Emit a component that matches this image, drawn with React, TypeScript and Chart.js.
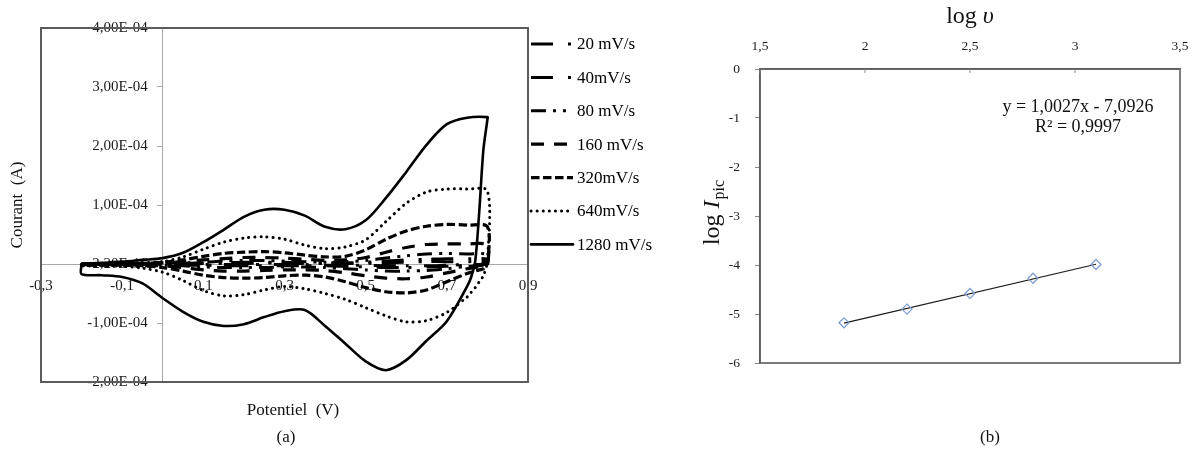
import React, { useEffect, useRef } from 'react';
import { Chart, registerables } from 'chart.js';

Chart.register(...registerables);

// ---------- Panel (a): cyclic voltammograms ----------
// Potential (V) sampled on the forward (anodic) and reverse (cathodic) sweeps
const potentialForward = [-0.2, -0.15, -0.1, -0.05, 0, 0.05, 0.1, 0.15, 0.2, 0.25, 0.3, 0.35, 0.4, 0.45, 0.5, 0.55, 0.6, 0.65, 0.7, 0.75, 0.8];
const potentialReverse = [0.8, 0.79, 0.78, 0.77, 0.76, 0.75, 0.7, 0.65, 0.6, 0.55, 0.5, 0.45, 0.4, 0.35, 0.3, 0.25, 0.2, 0.15, 0.1, 0.05, 0, -0.05, -0.1, -0.15, -0.2];

// Current in units of 1E-04 A
const current20Fwd = [0, 0, 0, 0, 0, 0, 0.01, 0.01, 0.01, 0.02, 0.01, 0.01, 0.01, 0.01, 0.01, 0.02, 0.03, 0.04, 0.04, 0.04, 0.04];
const current20Rev = [0, 0, -0.01, -0.01, -0.01, -0.01, -0.02, -0.03, -0.03, -0.03, -0.02, -0.02, -0.02, -0.01, -0.01, -0.01, -0.01, -0.01, -0.01, -0.01, 0, 0, 0, 0, 0];
const current40Fwd = [0, 0, 0, 0, 0, 0.01, 0.02, 0.02, 0.03, 0.03, 0.03, 0.02, 0.02, 0.02, 0.03, 0.05, 0.07, 0.08, 0.09, 0.09, 0.08];
const current40Rev = [0, -0.01, -0.01, -0.02, -0.02, -0.02, -0.04, -0.05, -0.06, -0.06, -0.05, -0.04, -0.03, -0.03, -0.03, -0.03, -0.03, -0.03, -0.02, -0.02, -0.01, -0.01, 0, 0, 0];
const current80Fwd = [0, 0, 0, 0, 0.01, 0.02, 0.03, 0.05, 0.06, 0.06, 0.05, 0.04, 0.03, 0.04, 0.06, 0.1, 0.14, 0.17, 0.18, 0.17, 0.16];
const current80Rev = [0.01, -0.02, -0.03, -0.03, -0.04, -0.04, -0.08, -0.11, -0.12, -0.12, -0.1, -0.08, -0.06, -0.05, -0.05, -0.06, -0.06, -0.06, -0.05, -0.03, -0.02, -0.01, -0.01, 0, 0];
const current160Fwd = [0, 0, 0, 0.01, 0.02, 0.04, 0.07, 0.09, 0.11, 0.11, 0.1, 0.08, 0.06, 0.07, 0.11, 0.2, 0.28, 0.33, 0.34, 0.34, 0.32];
const current160Rev = [0.01, -0.04, -0.05, -0.06, -0.07, -0.08, -0.15, -0.22, -0.25, -0.24, -0.2, -0.15, -0.11, -0.1, -0.1, -0.11, -0.12, -0.12, -0.1, -0.06, -0.03, -0.02, -0.01, -0.01, -0.01];
const current320Fwd = [0, 0, 0, 0.01, 0.03, 0.07, 0.13, 0.18, 0.2, 0.21, 0.19, 0.15, 0.12, 0.13, 0.24, 0.42, 0.56, 0.64, 0.67, 0.66, 0.63];
const current320Rev = [0.02, -0.08, -0.1, -0.12, -0.14, -0.16, -0.3, -0.44, -0.49, -0.47, -0.4, -0.3, -0.22, -0.19, -0.2, -0.23, -0.24, -0.23, -0.19, -0.12, -0.06, -0.03, -0.02, -0.02, -0.02];
const current640Fwd = [0, 0, 0.01, 0.02, 0.04, 0.12, 0.25, 0.37, 0.44, 0.46, 0.42, 0.32, 0.26, 0.29, 0.41, 0.72, 1.03, 1.22, 1.27, 1.27, 1.24];
const current640Rev = [0.05, -0.2, -0.3, -0.4, -0.48, -0.56, -0.82, -0.96, -0.98, -0.88, -0.74, -0.6, -0.5, -0.42, -0.38, -0.44, -0.52, -0.54, -0.45, -0.28, -0.14, -0.07, -0.04, -0.03, -0.03];
const current1280Fwd = [0, 0.02, 0.04, 0.07, 0.1, 0.19, 0.37, 0.58, 0.8, 0.92, 0.92, 0.82, 0.63, 0.59, 0.74, 1.12, 1.56, 2.02, 2.37, 2.48, 2.49];
const current1280Rev = [2.45, 1.93, 0.9, 0.05, -0.22, -0.38, -0.97, -1.3, -1.63, -1.8, -1.65, -1.35, -1.05, -0.78, -0.8, -0.9, -1.02, -1.05, -0.98, -0.81, -0.58, -0.33, -0.22, -0.19, -0.17];

const scanRateLabels = ['20 mV/s', '40mV/s', '80 mV/s', '160 mV/s', '320mV/s', '640mV/s', '1280 mV/s'];
const forwardSeries = [current20Fwd, current40Fwd, current80Fwd, current160Fwd, current320Fwd, current640Fwd, current1280Fwd];
const reverseSeries = [current20Rev, current40Rev, current80Rev, current160Rev, current320Rev, current640Rev, current1280Rev];

const xTickLabelsA = ['-0,3', '-0,1', '0,1', '0,3', '0,5', '0,7', '0,9'];
const yTickLabelsA = ['-2,00E-04', '-1,00E-04', '-2,20E-16', '1,00E-04', '2,00E-04', '3,00E-04', '4,00E-04'];

// ---------- Panel (b): log Ipic vs log v ----------
const logScanRate = [1.9, 2.2, 2.5, 2.8, 3.1];
const logPeakCurrent = [-5.18, -4.9, -4.58, -4.27, -3.99];
const trendSlope = 1.0027;
const trendIntercept = -7.0926;
const trendEquation = 'y = 1,0027x - 7,0926';
const trendR2 = 'R² = 0,9997';
const xTickLabelsB = ['1,5', '2', '2,5', '3', '3,5'];
const yTickLabelsB = ['-6', '-5', '-4', '-3', '-2', '-1', '0'];

// ---------- styles ----------
const SERIF = '"Liberation Serif", "Times New Roman", serif';
const lineStyles = [
  { dash: [22, 15, 3, 10], width: 3, cap: 'butt' },
  { dash: [22, 15, 3, 10], width: 3, cap: 'butt' },
  { dash: [15, 7, 3, 7, 3, 7], width: 3, cap: 'butt' },
  { dash: [13, 10], width: 3.2, cap: 'butt' },
  { dash: [8.5, 3.5], width: 3.2, cap: 'butt' },
  { dash: [0.1, 6], width: 3, cap: 'round' },
  { dash: [], width: 2.6, cap: 'round' },
];

// y labels of panel (a) sit left of the crossing axis, like Excel's
const shiftYLabelsPlugin = {
  id: 'shiftYLabels',
  beforeDraw(chart: any) {
    const items = chart.scales.y.getLabelItems();
    if (!items._shifted) {
      items.forEach((it: any) => { it.options.translation[0] -= 15; });
      items._shifted = true;
    }
  },
};

const frameAPlugin = {
  id: 'frameA',
  afterDraw(chart: any) {
    const { ctx, chartArea, data } = chart;
    ctx.save();
    ctx.strokeStyle = '#5c5c5c';
    ctx.lineWidth = 2;
    ctx.setLineDash([]);
    ctx.strokeRect(chartArea.left, chartArea.top, chartArea.right - chartArea.left, chartArea.bottom - chartArea.top);
    // legend
    const legX = chartArea.right + 3;
    data.datasets.forEach((ds: any, i: number) => {
      const y = 44 + i * 33.4;
      ctx.save();
      ctx.strokeStyle = '#000';
      ctx.lineWidth = ds.borderWidth;
      ctx.lineCap = ds.borderCapStyle;
      ctx.setLineDash(ds.borderDash);
      ctx.beginPath();
      ctx.moveTo(legX, y);
      ctx.lineTo(legX + 42, y);
      ctx.stroke();
      ctx.restore();
      ctx.fillStyle = '#000';
      ctx.font = `17px ${SERIF}`;
      ctx.textAlign = 'left';
      ctx.textBaseline = 'middle';
      ctx.fillText(ds.label, legX + 46, y + 1);
    });
    // titles
    ctx.fillStyle = '#111';
    ctx.font = `17px ${SERIF}`;
    ctx.textAlign = 'center';
    ctx.textBaseline = 'middle';
    ctx.fillText('Potentiel  (V)', 293, 411);
    ctx.fillText('(a)', 286, 438);
    ctx.translate(18, 205);
    ctx.rotate(-Math.PI / 2);
    ctx.fillText('Courant  (A)', 0, 0);
    ctx.restore();
  },
};

const frameBPlugin = {
  id: 'frameB',
  afterDraw(chart: any) {
    const { ctx, chartArea, scales } = chart;
    ctx.save();
    ctx.strokeStyle = '#5c5c5c';
    ctx.lineWidth = 1.6;
    ctx.strokeRect(chartArea.left, chartArea.top, chartArea.right - chartArea.left, chartArea.bottom - chartArea.top);
    // inward tick marks on the top axis
    ctx.lineWidth = 1;
    ctx.strokeStyle = '#888';
    scales.x.ticks.forEach((t: any) => {
      const px = scales.x.getPixelForValue(t.value);
      ctx.beginPath();
      ctx.moveTo(px, chartArea.top);
      ctx.lineTo(px, chartArea.top + 4);
      ctx.stroke();
    });
    ctx.fillStyle = '#111';
    ctx.textBaseline = 'middle';
    ctx.textAlign = 'center';
    // equation
    ctx.font = `18px ${SERIF}`;
    ctx.fillText(trendEquation, 378, 107);
    ctx.fillText(trendR2, 378, 127);
    // (b)
    ctx.font = `17px ${SERIF}`;
    ctx.fillText('(b)', 290, 438);
    // top title: log υ
    const cx = (chartArea.left + chartArea.right) / 2;
    ctx.font = `24px ${SERIF}`;
    const w1 = ctx.measureText('log ').width;
    ctx.font = `italic 24px ${SERIF}`;
    const w2 = ctx.measureText('υ').width;
    const sx = cx - (w1 + w2) / 2;
    ctx.textAlign = 'left';
    ctx.font = `24px ${SERIF}`;
    ctx.fillText('log ', sx, 17);
    ctx.font = `italic 24px ${SERIF}`;
    ctx.fillText('υ', sx + w1, 17);
    // y title: log I_pic (rotated)
    ctx.save();
    ctx.translate(13, 213);
    ctx.rotate(-Math.PI / 2);
    ctx.font = `24px ${SERIF}`;
    const a1 = ctx.measureText('log ').width;
    ctx.font = `italic 24px ${SERIF}`;
    const a2 = ctx.measureText('I').width;
    ctx.font = `16px ${SERIF}`;
    const a3 = ctx.measureText('pic').width;
    const st = -(a1 + a2 + a3) / 2;
    ctx.font = `24px ${SERIF}`;
    ctx.fillText('log ', st, 0);
    ctx.font = `italic 24px ${SERIF}`;
    ctx.fillText('I', st + a1, 0);
    ctx.font = `16px ${SERIF}`;
    ctx.fillText('pic', st + a1 + a2 + 1, 7);
    ctx.restore();
    ctx.restore();
  },
};

export default function App() {
  const refA = useRef<HTMLCanvasElement>(null);
  const refB = useRef<HTMLCanvasElement>(null);

  useEffect(() => {
    const datasetsA = scanRateLabels.map((label, k) => {
      const pts = potentialForward
        .map((x, i) => ({ x, y: forwardSeries[k][i] }))
        .concat(potentialReverse.map((x, i) => ({ x, y: reverseSeries[k][i] })));
      pts.push({ x: potentialForward[0], y: forwardSeries[k][0] });
      const st = lineStyles[k];
      return {
        label,
        data: pts,
        showLine: true,
        borderColor: '#000',
        backgroundColor: '#000',
        borderWidth: st.width,
        borderDash: st.dash,
        borderCapStyle: st.cap,
        borderJoinStyle: 'round',
        pointRadius: 0,
        tension: 0.3,
      };
    });

    const tickFontA = { family: SERIF, size: 15 };
    const chartA = new Chart(refA.current as HTMLCanvasElement, {
      type: 'scatter',
      data: { datasets: datasetsA as any },
      options: {
        responsive: false,
        animation: false,
        devicePixelRatio: 1,
        layout: { padding: { left: 41, right: 172, top: 28, bottom: 71 } },
        plugins: { legend: { display: false }, tooltip: { enabled: false } },
        scales: {
          x: {
            type: 'linear',
            position: { y: 0 } as any,
            min: -0.3,
            max: 0.9,
            ticks: {
              stepSize: 0.2,
              callback: (_v: any, i: number) => xTickLabelsA[i],
              font: tickFontA,
              color: '#1a1a1a',
              padding: 13,
              maxRotation: 0,
              autoSkip: false,
            },
            grid: { display: true, drawOnChartArea: false, drawTicks: false },
            border: { display: true, color: '#a8a8a8', width: 1 },
          },
          y: {
            type: 'linear',
            position: { x: 0 } as any,
            min: -2,
            max: 4,
            ticks: {
              stepSize: 1,
              callback: (_v: any, i: number) => yTickLabelsA[i],
              font: tickFontA,
              color: '#1a1a1a',
              padding: 10,
            },
            grid: { display: true, drawOnChartArea: false, drawTicks: true, tickLength: 5, color: '#a8a8a8' },
            border: { display: true, color: '#a8a8a8', width: 1 },
          },
        },
      },
      plugins: [shiftYLabelsPlugin, frameAPlugin],
    });

    const tickFontB = { family: SERIF, size: 13.5 };
    const trendX = [logScanRate[0], logScanRate[logScanRate.length - 1]];
    const chartB = new Chart(refB.current as HTMLCanvasElement, {
      type: 'scatter',
      data: {
        datasets: [
          {
            label: 'log Ipic',
            data: logScanRate.map((x, i) => ({ x, y: logPeakCurrent[i] })),
            pointStyle: 'rectRot',
            pointRadius: 5,
            pointBorderWidth: 1.3,
            borderColor: '#7f9fd0',
            backgroundColor: 'rgba(0,0,0,0)',
            showLine: false,
          },
          {
            label: 'Linéaire',
            data: trendX.map((x) => ({ x, y: trendSlope * x + trendIntercept })),
            showLine: true,
            borderColor: '#1a1a1a',
            borderWidth: 1.2,
            pointRadius: 0,
          },
        ] as any,
      },
      options: {
        responsive: false,
        animation: false,
        devicePixelRatio: 1,
        layout: { padding: { left: 0, right: 16, top: 0, bottom: 90 } },
        plugins: { legend: { display: false }, tooltip: { enabled: false } },
        scales: {
          x: {
            type: 'linear',
            position: 'top',
            min: 1.5,
            max: 3.5,
            ticks: {
              stepSize: 0.5,
              callback: (_v: any, i: number) => xTickLabelsB[i],
              font: tickFontB,
              color: '#1a1a1a',
              padding: 14,
              maxRotation: 0,
              autoSkip: false,
            },
            grid: { display: true, drawOnChartArea: false, drawTicks: false },
            border: { display: true, color: '#5c5c5c', width: 1.6 },
            afterFit: (s: any) => { s.height = 69; s.paddingLeft = 0; s.paddingRight = 0; },
          },
          y: {
            type: 'linear',
            position: 'left',
            min: -6,
            max: 0,
            ticks: {
              stepSize: 1,
              callback: (_v: any, i: number) => yTickLabelsB[i],
              font: tickFontB,
              color: '#1a1a1a',
              padding: 15,
            },
            grid: { display: true, drawOnChartArea: false, drawTicks: true, tickLength: 5, color: '#888' },
            border: { display: true, color: '#5c5c5c', width: 1.6 },
            afterFit: (s: any) => { s.width = 60; s.paddingTop = 0; s.paddingBottom = 0; },
          },
        },
      },
      plugins: [frameBPlugin],
    });

    return () => {
      chartA.destroy();
      chartB.destroy();
    };
  }, []);

  return (
    <div style={{ position: 'fixed', left: 0, top: 0, width: 1196, height: 453, background: '#fff' }}>
      <canvas ref={refA} width={700} height={453} style={{ position: 'absolute', left: 0, top: 0, width: 700, height: 453 }} />
      <canvas ref={refB} width={496} height={453} style={{ position: 'absolute', left: 700, top: 0, width: 496, height: 453 }} />
    </div>
  );
}
